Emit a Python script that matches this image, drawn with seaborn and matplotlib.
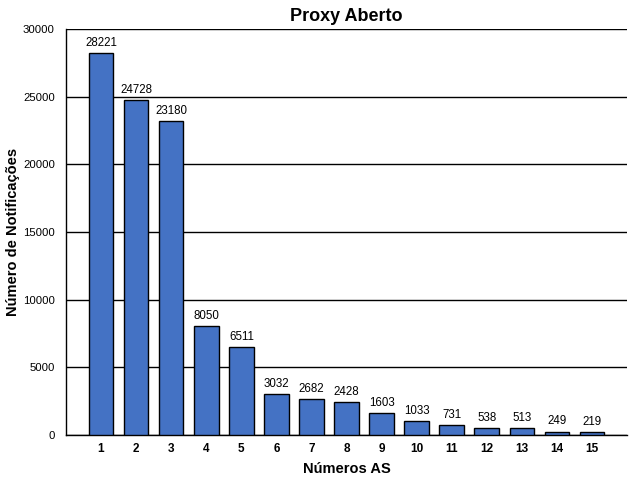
import matplotlib
matplotlib.use("Agg")
import matplotlib.pyplot as plt
import seaborn as sns
import pandas as pd

categories = [str(i) for i in range(1, 16)]
values = [28221, 24728, 23180, 8050, 6511, 3032, 2682, 2428, 1603, 1033, 731, 538, 513, 249, 219]
yticks = [0, 5000, 10000, 15000, 20000, 25000, 30000]

sns.set_theme(style="white")
plt.rcParams['font.family'] = ['Liberation Sans', 'DejaVu Sans']
plt.rcParams['text.color'] = 'black'
plt.rcParams['axes.labelcolor'] = 'black'
plt.rcParams['xtick.color'] = 'black'
plt.rcParams['ytick.color'] = 'black'

df = pd.DataFrame({"AS": categories, "count": values})

fig = plt.figure(figsize=(6.4, 4.8), dpi=100)
ax = fig.add_axes([66/640, 45/480, (627-66)/640, (435-29)/480])
sns.barplot(data=df, x="AS", y="count", ax=ax, color="#4472C4", saturation=1,
            width=0.7, edgecolor="black", linewidth=1, zorder=3)

ax.set_xlim(-1, 15)
ax.set_ylim(0, 30000)
ax.set_yticks(yticks)
ax.set_yticklabels([str(v) for v in yticks], fontsize=8.2)
ax.yaxis.grid(True, color="black", linewidth=1, zorder=0)
ax.set_axisbelow(True)
for lbl in ax.get_xticklabels():
    lbl.set_fontweight("bold")
    lbl.set_fontsize(8.5)
ax.tick_params(axis="both", length=0)
ax.tick_params(axis="y", pad=8)
ax.tick_params(axis="x", pad=6)
for s in ["top", "right"]:
    ax.spines[s].set_visible(False)
for s in ["left", "bottom"]:
    ax.spines[s].set_color("black")
    ax.spines[s].set_linewidth(1)

ax.bar_label(ax.containers[0], labels=[str(v) for v in values], padding=3, fontsize=8.3, color="black")

ax.set_title("Proxy Aberto", fontsize=13, fontweight="bold", pad=6, color="black")
ax.set_xlabel("Números AS", fontsize=10.5, fontweight="bold", labelpad=5)
ax.set_ylabel("Número de Notificações", fontsize=10.5, fontweight="bold")
ax.yaxis.set_label_coords((20 - 66) / 561, 0.5)

fig.savefig("out.png", dpi=100)
